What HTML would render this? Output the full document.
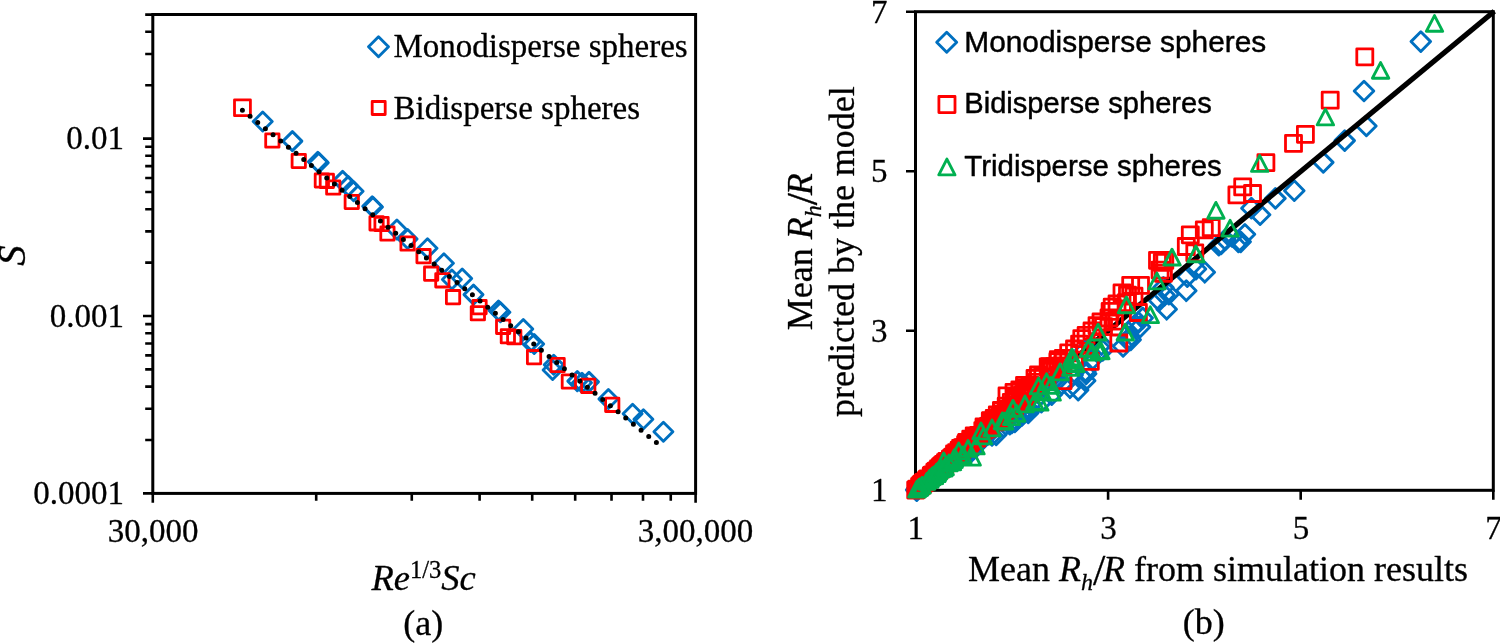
<!DOCTYPE html>
<html><head><meta charset="utf-8"><title>Figure</title>
<style>html,body{margin:0;padding:0;background:#fff;overflow:hidden}svg{display:block;will-change:transform}text{fill:#000;stroke:#000;stroke-width:.3px}.sn{stroke-width:.45px}</style></head>
<body><svg width="1500" height="643" viewBox="0 0 1500 643" stroke-linejoin="round">
<rect x="152.8" y="14.5" width="542.8" height="478.9" fill="none" stroke="#000" stroke-width="3" stroke-linejoin="miter"/>
<path d="M143.0 493.40H152.8M145.2 440.00H152.8M145.2 408.76H152.8M145.2 386.59H152.8M145.2 369.40H152.8M145.2 355.36H152.8M145.2 343.48H152.8M145.2 333.19H152.8M145.2 324.12H152.8M143.0 316.00H152.8M145.2 262.60H152.8M145.2 231.36H152.8M145.2 209.19H152.8M145.2 192.00H152.8M145.2 177.96H152.8M145.2 166.08H152.8M145.2 155.79H152.8M145.2 146.72H152.8M143.0 138.60H152.8M145.2 85.20H152.8M145.2 53.96H152.8M145.2 31.79H152.8M145.2 14.60H152.8M152.80 493.4V502.8M316.20 493.4V500.7M411.78 493.4V500.7M479.60 493.4V500.7M532.20 493.4V500.7M575.18 493.4V500.7M611.52 493.4V500.7M643.00 493.4V500.7M670.76 493.4V500.7M695.60 493.4V502.8" stroke="#000" stroke-width="2.6" fill="none"/>
<path d="M262.7 112.0L272.2 121.5L262.7 131.0L253.2 121.5Z" fill="none" stroke="#0070C0" stroke-width="2.9"/>
<path d="M292.4 131.6L301.9 141.1L292.4 150.6L282.9 141.1Z" fill="none" stroke="#0070C0" stroke-width="2.9"/>
<path d="M317.8 152.3L327.3 161.8L317.8 171.3L308.3 161.8Z" fill="none" stroke="#0070C0" stroke-width="2.9"/>
<path d="M318.8 153.3L328.3 162.8L318.8 172.3L309.3 162.8Z" fill="none" stroke="#0070C0" stroke-width="2.9"/>
<path d="M342.6 171.4L352.1 180.9L342.6 190.4L333.1 180.9Z" fill="none" stroke="#0070C0" stroke-width="2.9"/>
<path d="M348.2 176.6L357.7 186.1L348.2 195.6L338.7 186.1Z" fill="none" stroke="#0070C0" stroke-width="2.9"/>
<path d="M353.6 181.8L363.1 191.3L353.6 200.8L344.1 191.3Z" fill="none" stroke="#0070C0" stroke-width="2.9"/>
<path d="M372.2 196.7L381.7 206.2L372.2 215.7L362.7 206.2Z" fill="none" stroke="#0070C0" stroke-width="2.9"/>
<path d="M373.0 197.5L382.5 207.0L373.0 216.5L363.5 207.0Z" fill="none" stroke="#0070C0" stroke-width="2.9"/>
<path d="M396.9 220.0L406.4 229.5L396.9 239.0L387.4 229.5Z" fill="none" stroke="#0070C0" stroke-width="2.9"/>
<path d="M407.6 229.5L417.1 239.0L407.6 248.5L398.1 239.0Z" fill="none" stroke="#0070C0" stroke-width="2.9"/>
<path d="M427.5 238.8L437.0 248.3L427.5 257.8L418.0 248.3Z" fill="none" stroke="#0070C0" stroke-width="2.9"/>
<path d="M443.9 253.8L453.4 263.3L443.9 272.8L434.4 263.3Z" fill="none" stroke="#0070C0" stroke-width="2.9"/>
<path d="M462.2 269.0L471.7 278.5L462.2 288.0L452.7 278.5Z" fill="none" stroke="#0070C0" stroke-width="2.9"/>
<path d="M451.9 270.0L461.4 279.5L451.9 289.0L442.4 279.5Z" fill="none" stroke="#0070C0" stroke-width="2.9"/>
<path d="M473.5 285.1L483.0 294.6L473.5 304.1L464.0 294.6Z" fill="none" stroke="#0070C0" stroke-width="2.9"/>
<path d="M498.5 301.0L508.0 310.5L498.5 320.0L489.0 310.5Z" fill="none" stroke="#0070C0" stroke-width="2.9"/>
<path d="M500.4 302.8L509.9 312.3L500.4 321.8L490.9 312.3Z" fill="none" stroke="#0070C0" stroke-width="2.9"/>
<path d="M523.3 319.5L532.8 329.0L523.3 338.5L513.8 329.0Z" fill="none" stroke="#0070C0" stroke-width="2.9"/>
<path d="M534.2 334.5L543.7 344.0L534.2 353.5L524.7 344.0Z" fill="none" stroke="#0070C0" stroke-width="2.9"/>
<path d="M530.5 332.5L540.0 342.0L530.5 351.5L521.0 342.0Z" fill="none" stroke="#0070C0" stroke-width="2.9"/>
<path d="M553.7 355.2L563.2 364.7L553.7 374.2L544.2 364.7Z" fill="none" stroke="#0070C0" stroke-width="2.9"/>
<path d="M552.6 360.5L562.1 370.0L552.6 379.5L543.1 370.0Z" fill="none" stroke="#0070C0" stroke-width="2.9"/>
<path d="M577.3 371.6L586.8 381.1L577.3 390.6L567.8 381.1Z" fill="none" stroke="#0070C0" stroke-width="2.9"/>
<path d="M582.0 373.2L591.5 382.7L582.0 392.2L572.5 382.7Z" fill="none" stroke="#0070C0" stroke-width="2.9"/>
<path d="M589.0 372.4L598.5 381.9L589.0 391.4L579.5 381.9Z" fill="none" stroke="#0070C0" stroke-width="2.9"/>
<path d="M608.4 389.5L617.9 399.0L608.4 408.5L598.9 399.0Z" fill="none" stroke="#0070C0" stroke-width="2.9"/>
<path d="M632.6 404.3L642.1 413.8L632.6 423.3L623.1 413.8Z" fill="none" stroke="#0070C0" stroke-width="2.9"/>
<path d="M643.4 409.7L652.9 419.2L643.4 428.7L633.9 419.2Z" fill="none" stroke="#0070C0" stroke-width="2.9"/>
<path d="M663.4 422.2L672.9 431.7L663.4 441.2L653.9 431.7Z" fill="none" stroke="#0070C0" stroke-width="2.9"/>
<rect x="234.5" y="99.8" width="15.9" height="15.9" fill="none" stroke="#FF0000" stroke-width="2.8"/>
<rect x="265.7" y="133.9" width="13.3" height="13.3" fill="none" stroke="#FF0000" stroke-width="2.8"/>
<rect x="292.1" y="154.3" width="13.3" height="13.3" fill="none" stroke="#FF0000" stroke-width="2.8"/>
<rect x="315.2" y="173.8" width="13.3" height="13.3" fill="none" stroke="#FF0000" stroke-width="2.8"/>
<rect x="320.2" y="174.2" width="13.3" height="13.3" fill="none" stroke="#FF0000" stroke-width="2.8"/>
<rect x="326.6" y="180.9" width="13.3" height="13.3" fill="none" stroke="#FF0000" stroke-width="2.8"/>
<rect x="345.1" y="195.3" width="13.3" height="13.3" fill="none" stroke="#FF0000" stroke-width="2.8"/>
<rect x="369.9" y="216.7" width="13.3" height="13.3" fill="none" stroke="#FF0000" stroke-width="2.8"/>
<rect x="374.9" y="217.3" width="13.3" height="13.3" fill="none" stroke="#FF0000" stroke-width="2.8"/>
<rect x="380.8" y="226.9" width="13.3" height="13.3" fill="none" stroke="#FF0000" stroke-width="2.8"/>
<rect x="400.9" y="236.9" width="13.3" height="13.3" fill="none" stroke="#FF0000" stroke-width="2.8"/>
<rect x="416.9" y="249.5" width="13.3" height="13.3" fill="none" stroke="#FF0000" stroke-width="2.8"/>
<rect x="424.5" y="267.0" width="13.3" height="13.3" fill="none" stroke="#FF0000" stroke-width="2.8"/>
<rect x="435.7" y="273.7" width="13.3" height="13.3" fill="none" stroke="#FF0000" stroke-width="2.8"/>
<rect x="446.4" y="290.5" width="13.3" height="13.3" fill="none" stroke="#FF0000" stroke-width="2.8"/>
<rect x="472.9" y="300.5" width="13.3" height="13.3" fill="none" stroke="#FF0000" stroke-width="2.8"/>
<rect x="471.2" y="306.6" width="13.3" height="13.3" fill="none" stroke="#FF0000" stroke-width="2.8"/>
<rect x="496.5" y="320.2" width="13.3" height="13.3" fill="none" stroke="#FF0000" stroke-width="2.8"/>
<rect x="501.2" y="329.6" width="13.3" height="13.3" fill="none" stroke="#FF0000" stroke-width="2.8"/>
<rect x="507.6" y="330.5" width="13.3" height="13.3" fill="none" stroke="#FF0000" stroke-width="2.8"/>
<rect x="527.4" y="350.5" width="13.3" height="13.3" fill="none" stroke="#FF0000" stroke-width="2.8"/>
<rect x="551.0" y="358.4" width="13.3" height="13.3" fill="none" stroke="#FF0000" stroke-width="2.8"/>
<rect x="562.2" y="374.9" width="13.3" height="13.3" fill="none" stroke="#FF0000" stroke-width="2.8"/>
<rect x="581.6" y="379.2" width="13.3" height="13.3" fill="none" stroke="#FF0000" stroke-width="2.8"/>
<rect x="605.6" y="398.2" width="13.3" height="13.3" fill="none" stroke="#FF0000" stroke-width="2.8"/>
<path d="M242.4 110.2L656.4 442.6" stroke="#000" stroke-width="5" stroke-linecap="round" stroke-dasharray="0 9.832" fill="none"/>
<path d="M378.5 36.7L388.5 46.7L378.5 56.7L368.5 46.7Z" fill="none" stroke="#0070C0" stroke-width="2.9"/>
<rect x="372.2" y="101.5" width="13.0" height="13.0" fill="none" stroke="#FF0000" stroke-width="2.8"/>
<text x="393.5" y="57.1" font-family="Liberation Serif" font-size="33">Monodisperse spheres</text>
<text x="393.5" y="118.9" font-family="Liberation Serif" font-size="33">Bidisperse spheres</text>
<text x="124.0" y="149.3" font-family="Liberation Serif" font-size="33" text-anchor="end">0.01</text>
<text x="124.0" y="326.7" font-family="Liberation Serif" font-size="33" text-anchor="end">0.001</text>
<text x="124.0" y="504.1" font-family="Liberation Serif" font-size="33" text-anchor="end">0.0001</text>
<text x="153.2" y="542.3" font-family="Liberation Serif" font-size="33" text-anchor="middle">30,000</text>
<text x="695.6" y="542.3" font-family="Liberation Serif" font-size="33" text-anchor="middle">3,00,000</text>
<text x="371.5" y="589.5" font-family="Liberation Serif" font-size="36.5" font-style="italic">Re<tspan font-size="24.5" font-style="normal" dy="-11.5">1/3</tspan><tspan dy="11.5">Sc</tspan></text>
<text x="423.2" y="634.5" font-family="Liberation Serif" font-size="36" text-anchor="middle">(a)</text>
<text transform="translate(25 255.6) rotate(-90)" font-family="Liberation Serif" font-size="41" font-style="italic" text-anchor="middle">S</text>
<rect x="915.5" y="11.7" width="577.8" height="478.6" fill="none" stroke="#000" stroke-width="3" stroke-linejoin="miter"/>
<path d="M906 490.30H915.5M915.50 490.3V499.8M906 330.77H915.5M1108.10 490.3V499.8M906 171.23H915.5M1300.70 490.3V499.8M906 11.70H915.5M1493.30 490.3V499.8" stroke="#000" stroke-width="2.6" fill="none"/>
<path d="M1420.8 31.8L1430.6 41.6L1420.8 51.5L1411.0 41.6Z" fill="none" stroke="#0070C0" stroke-width="2.9"/>
<path d="M1364.0 81.2L1373.8 91.0L1364.0 100.8L1354.2 91.0Z" fill="none" stroke="#0070C0" stroke-width="2.9"/>
<path d="M1366.4 116.2L1376.2 126.0L1366.4 135.8L1356.6 126.0Z" fill="none" stroke="#0070C0" stroke-width="2.9"/>
<path d="M1344.7 130.8L1354.5 140.6L1344.7 150.4L1334.9 140.6Z" fill="none" stroke="#0070C0" stroke-width="2.9"/>
<path d="M1323.3 152.6L1333.1 162.4L1323.3 172.2L1313.5 162.4Z" fill="none" stroke="#0070C0" stroke-width="2.9"/>
<path d="M1294.3 180.8L1304.1 190.7L1294.3 200.5L1284.5 190.7Z" fill="none" stroke="#0070C0" stroke-width="2.9"/>
<path d="M1275.4 188.6L1285.2 198.4L1275.4 208.2L1265.6 198.4Z" fill="none" stroke="#0070C0" stroke-width="2.9"/>
<path d="M1251.4 198.3L1261.2 208.2L1251.4 218.0L1241.6 208.2Z" fill="none" stroke="#0070C0" stroke-width="2.9"/>
<path d="M1260.1 204.8L1269.9 214.7L1260.1 224.5L1250.2 214.7Z" fill="none" stroke="#0070C0" stroke-width="2.9"/>
<path d="M1244.9 224.5L1254.8 234.3L1244.9 244.2L1235.1 234.3Z" fill="none" stroke="#0070C0" stroke-width="2.9"/>
<path d="M1238.4 232.1L1248.2 241.9L1238.4 251.8L1228.6 241.9Z" fill="none" stroke="#0070C0" stroke-width="2.9"/>
<path d="M1225.3 229.8L1235.1 239.7L1225.3 249.5L1215.5 239.7Z" fill="none" stroke="#0070C0" stroke-width="2.9"/>
<path d="M1218.8 235.3L1228.6 245.2L1218.8 255.0L1209.0 245.2Z" fill="none" stroke="#0070C0" stroke-width="2.9"/>
<path d="M1221.1 234.1L1230.9 243.9L1221.1 253.8L1211.2 243.9Z" fill="none" stroke="#0070C0" stroke-width="2.9"/>
<path d="M1232.0 226.5L1241.8 236.3L1232.0 246.2L1222.2 236.3Z" fill="none" stroke="#0070C0" stroke-width="2.9"/>
<path d="M1240.7 232.0L1250.5 241.8L1240.7 251.7L1230.9 241.8Z" fill="none" stroke="#0070C0" stroke-width="2.9"/>
<path d="M1204.8 262.3L1214.6 272.2L1204.8 282.1L1195.0 272.2Z" fill="none" stroke="#0070C0" stroke-width="2.9"/>
<path d="M1196.0 259.1L1205.8 269.0L1196.0 278.9L1186.2 269.0Z" fill="none" stroke="#0070C0" stroke-width="2.9"/>
<path d="M1187.3 266.8L1197.1 276.6L1187.3 286.5L1177.5 276.6Z" fill="none" stroke="#0070C0" stroke-width="2.9"/>
<path d="M1186.3 280.8L1196.1 290.7L1186.3 300.6L1176.5 290.7Z" fill="none" stroke="#0070C0" stroke-width="2.9"/>
<path d="M1163.4 277.6L1173.2 287.5L1163.4 297.4L1153.6 287.5Z" fill="none" stroke="#0070C0" stroke-width="2.9"/>
<path d="M1164.5 285.2L1174.3 295.1L1164.5 305.0L1154.7 295.1Z" fill="none" stroke="#0070C0" stroke-width="2.9"/>
<path d="M1168.8 284.1L1178.6 294.0L1168.8 303.9L1159.0 294.0Z" fill="none" stroke="#0070C0" stroke-width="2.9"/>
<path d="M1166.7 299.3L1176.5 309.2L1166.7 319.1L1156.9 309.2Z" fill="none" stroke="#0070C0" stroke-width="2.9"/>
<path d="M1159.0 290.6L1168.8 300.5L1159.0 310.4L1149.2 300.5Z" fill="none" stroke="#0070C0" stroke-width="2.9"/>
<path d="M1138.4 312.4L1148.2 322.3L1138.4 332.2L1128.6 322.3Z" fill="none" stroke="#0070C0" stroke-width="2.9"/>
<path d="M1142.7 308.1L1152.5 318.0L1142.7 327.9L1132.9 318.0Z" fill="none" stroke="#0070C0" stroke-width="2.9"/>
<path d="M1134.0 316.8L1143.8 326.7L1134.0 336.6L1124.2 326.7Z" fill="none" stroke="#0070C0" stroke-width="2.9"/>
<path d="M1127.5 329.8L1137.3 339.7L1127.5 349.6L1117.7 339.7Z" fill="none" stroke="#0070C0" stroke-width="2.9"/>
<path d="M1123.1 336.4L1132.9 346.3L1123.1 356.2L1113.2 346.3Z" fill="none" stroke="#0070C0" stroke-width="2.9"/>
<path d="M916.2 479.9L926.1 489.8L916.2 499.7L906.4 489.8Z" fill="none" stroke="#0070C0" stroke-width="2.9"/>
<path d="M916.8 480.8L926.6 490.6L916.8 500.5L906.9 490.6Z" fill="none" stroke="#0070C0" stroke-width="2.9"/>
<path d="M931.1 468.9L940.9 478.7L931.1 488.6L921.2 478.7Z" fill="none" stroke="#0070C0" stroke-width="2.9"/>
<path d="M946.8 457.4L956.7 467.2L946.8 477.1L937.0 467.2Z" fill="none" stroke="#0070C0" stroke-width="2.9"/>
<path d="M941.3 460.7L951.2 470.6L941.3 480.4L931.5 470.6Z" fill="none" stroke="#0070C0" stroke-width="2.9"/>
<path d="M918.3 478.3L928.1 488.1L918.3 498.0L908.4 488.1Z" fill="none" stroke="#0070C0" stroke-width="2.9"/>
<path d="M917.3 479.1L927.2 488.9L917.3 498.8L907.5 488.9Z" fill="none" stroke="#0070C0" stroke-width="2.9"/>
<path d="M918.9 478.0L928.7 487.8L918.9 497.7L909.0 487.8Z" fill="none" stroke="#0070C0" stroke-width="2.9"/>
<path d="M935.9 463.9L945.8 473.7L935.9 483.6L926.1 473.7Z" fill="none" stroke="#0070C0" stroke-width="2.9"/>
<path d="M921.5 476.0L931.3 485.8L921.5 495.7L911.6 485.8Z" fill="none" stroke="#0070C0" stroke-width="2.9"/>
<path d="M945.7 455.6L955.6 465.4L945.7 475.3L935.9 465.4Z" fill="none" stroke="#0070C0" stroke-width="2.9"/>
<path d="M943.3 459.1L953.1 468.9L943.3 478.8L933.4 468.9Z" fill="none" stroke="#0070C0" stroke-width="2.9"/>
<path d="M962.5 446.0L972.4 455.8L962.5 465.7L952.7 455.8Z" fill="none" stroke="#0070C0" stroke-width="2.9"/>
<path d="M956.8 449.1L966.7 459.0L956.8 468.8L947.0 459.0Z" fill="none" stroke="#0070C0" stroke-width="2.9"/>
<path d="M922.4 475.3L932.3 485.2L922.4 495.0L912.6 485.2Z" fill="none" stroke="#0070C0" stroke-width="2.9"/>
<path d="M930.4 468.4L940.2 478.3L930.4 488.1L920.5 478.3Z" fill="none" stroke="#0070C0" stroke-width="2.9"/>
<path d="M924.2 473.6L934.1 483.5L924.2 493.3L914.4 483.5Z" fill="none" stroke="#0070C0" stroke-width="2.9"/>
<path d="M946.3 456.9L956.1 466.7L946.3 476.6L936.4 466.7Z" fill="none" stroke="#0070C0" stroke-width="2.9"/>
<path d="M941.9 461.1L951.7 470.9L941.9 480.8L932.0 470.9Z" fill="none" stroke="#0070C0" stroke-width="2.9"/>
<path d="M918.4 478.3L928.2 488.1L918.4 498.0L908.5 488.1Z" fill="none" stroke="#0070C0" stroke-width="2.9"/>
<path d="M948.3 455.2L958.1 465.0L948.3 474.9L938.4 465.0Z" fill="none" stroke="#0070C0" stroke-width="2.9"/>
<path d="M930.6 468.5L940.5 478.4L930.6 488.2L920.8 478.4Z" fill="none" stroke="#0070C0" stroke-width="2.9"/>
<path d="M937.3 463.9L947.2 473.7L937.3 483.6L927.5 473.7Z" fill="none" stroke="#0070C0" stroke-width="2.9"/>
<path d="M953.7 449.9L963.6 459.8L953.7 469.6L943.9 459.8Z" fill="none" stroke="#0070C0" stroke-width="2.9"/>
<path d="M927.3 471.2L937.1 481.1L927.3 490.9L917.4 481.1Z" fill="none" stroke="#0070C0" stroke-width="2.9"/>
<path d="M940.8 459.8L950.6 469.7L940.8 479.5L930.9 469.7Z" fill="none" stroke="#0070C0" stroke-width="2.9"/>
<path d="M950.6 453.8L960.5 463.7L950.6 473.5L940.8 463.7Z" fill="none" stroke="#0070C0" stroke-width="2.9"/>
<path d="M962.7 445.5L972.5 455.3L962.7 465.2L952.8 455.3Z" fill="none" stroke="#0070C0" stroke-width="2.9"/>
<path d="M935.6 464.3L945.5 474.1L935.6 484.0L925.8 474.1Z" fill="none" stroke="#0070C0" stroke-width="2.9"/>
<path d="M922.8 474.8L932.7 484.6L922.8 494.5L913.0 484.6Z" fill="none" stroke="#0070C0" stroke-width="2.9"/>
<path d="M917.4 478.9L927.2 488.8L917.4 498.6L907.5 488.8Z" fill="none" stroke="#0070C0" stroke-width="2.9"/>
<path d="M952.3 451.5L962.2 461.4L952.3 471.2L942.5 461.4Z" fill="none" stroke="#0070C0" stroke-width="2.9"/>
<path d="M957.7 448.4L967.5 458.3L957.7 468.1L947.8 458.3Z" fill="none" stroke="#0070C0" stroke-width="2.9"/>
<path d="M949.0 454.1L958.8 463.9L949.0 473.8L939.1 463.9Z" fill="none" stroke="#0070C0" stroke-width="2.9"/>
<path d="M943.4 458.8L953.3 468.7L943.4 478.5L933.6 468.7Z" fill="none" stroke="#0070C0" stroke-width="2.9"/>
<path d="M955.9 447.2L965.8 457.0L955.9 466.9L946.1 457.0Z" fill="none" stroke="#0070C0" stroke-width="2.9"/>
<path d="M938.3 462.3L948.2 472.2L938.3 482.0L928.5 472.2Z" fill="none" stroke="#0070C0" stroke-width="2.9"/>
<path d="M918.4 478.1L928.3 488.0L918.4 497.8L908.6 488.0Z" fill="none" stroke="#0070C0" stroke-width="2.9"/>
<path d="M1098.0 342.8L1107.8 352.7L1098.0 362.6L1088.2 352.7Z" fill="none" stroke="#0070C0" stroke-width="2.9"/>
<path d="M1102.7 340.4L1112.5 350.3L1102.7 360.2L1092.9 350.3Z" fill="none" stroke="#0070C0" stroke-width="2.9"/>
<path d="M1092.2 349.8L1102.0 359.7L1092.2 369.6L1082.4 359.7Z" fill="none" stroke="#0070C0" stroke-width="2.9"/>
<path d="M1085.2 370.8L1095.0 380.7L1085.2 390.6L1075.4 380.7Z" fill="none" stroke="#0070C0" stroke-width="2.9"/>
<path d="M1070.0 377.8L1079.8 387.7L1070.0 397.6L1060.2 387.7Z" fill="none" stroke="#0070C0" stroke-width="2.9"/>
<path d="M1061.8 374.3L1071.6 384.2L1061.8 394.1L1052.0 384.2Z" fill="none" stroke="#0070C0" stroke-width="2.9"/>
<path d="M1078.2 380.1L1088.0 390.0L1078.2 399.9L1068.4 390.0Z" fill="none" stroke="#0070C0" stroke-width="2.9"/>
<path d="M1135.4 314.8L1145.2 324.7L1135.4 334.6L1125.6 324.7Z" fill="none" stroke="#0070C0" stroke-width="2.9"/>
<path d="M1140.0 317.1L1149.8 327.0L1140.0 336.9L1130.2 327.0Z" fill="none" stroke="#0070C0" stroke-width="2.9"/>
<path d="M1130.7 329.9L1140.5 339.8L1130.7 349.7L1120.9 339.8Z" fill="none" stroke="#0070C0" stroke-width="2.9"/>
<path d="M994.8 414.8L1004.7 424.7L994.8 434.5L985.0 424.7Z" fill="none" stroke="#0070C0" stroke-width="2.9"/>
<path d="M1003.2 417.1L1013.1 427.0L1003.2 436.8L993.4 427.0Z" fill="none" stroke="#0070C0" stroke-width="2.9"/>
<path d="M982.2 428.5L992.1 438.3L982.2 448.2L972.4 438.3Z" fill="none" stroke="#0070C0" stroke-width="2.9"/>
<path d="M964.7 443.6L974.6 453.5L964.7 463.3L954.9 453.5Z" fill="none" stroke="#0070C0" stroke-width="2.9"/>
<path d="M971.7 441.3L981.6 451.1L971.7 461.0L961.9 451.1Z" fill="none" stroke="#0070C0" stroke-width="2.9"/>
<path d="M966.5 440.0L976.3 449.8L966.5 459.7L956.6 449.8Z" fill="none" stroke="#0070C0" stroke-width="2.9"/>
<path d="M969.9 441.5L979.7 451.4L969.9 461.2L960.0 451.4Z" fill="none" stroke="#0070C0" stroke-width="2.9"/>
<path d="M982.5 426.3L992.3 436.1L982.5 446.0L972.6 436.1Z" fill="none" stroke="#0070C0" stroke-width="2.9"/>
<path d="M967.5 441.6L977.4 451.5L967.5 461.3L957.7 451.5Z" fill="none" stroke="#0070C0" stroke-width="2.9"/>
<path d="M990.1 420.0L1000.0 429.8L990.1 439.7L980.3 429.8Z" fill="none" stroke="#0070C0" stroke-width="2.9"/>
<path d="M1003.1 409.7L1012.9 419.5L1003.1 429.4L993.2 419.5Z" fill="none" stroke="#0070C0" stroke-width="2.9"/>
<path d="M977.1 434.8L986.9 444.7L977.1 454.5L967.2 444.7Z" fill="none" stroke="#0070C0" stroke-width="2.9"/>
<path d="M980.9 427.4L990.8 437.2L980.9 447.1L971.1 437.2Z" fill="none" stroke="#0070C0" stroke-width="2.9"/>
<path d="M1009.8 414.3L1019.6 424.2L1009.8 434.0L999.9 424.2Z" fill="none" stroke="#0070C0" stroke-width="2.9"/>
<path d="M972.1 440.0L982.0 449.9L972.1 459.7L962.3 449.9Z" fill="none" stroke="#0070C0" stroke-width="2.9"/>
<path d="M974.9 435.8L984.7 445.7L974.9 455.5L965.0 445.7Z" fill="none" stroke="#0070C0" stroke-width="2.9"/>
<path d="M992.0 425.5L1001.9 435.3L992.0 445.2L982.2 435.3Z" fill="none" stroke="#0070C0" stroke-width="2.9"/>
<path d="M963.8 444.6L973.7 454.4L963.8 464.3L954.0 454.4Z" fill="none" stroke="#0070C0" stroke-width="2.9"/>
<path d="M981.4 430.1L991.3 440.0L981.4 449.8L971.6 440.0Z" fill="none" stroke="#0070C0" stroke-width="2.9"/>
<path d="M1009.5 406.9L1019.4 416.7L1009.5 426.6L999.7 416.7Z" fill="none" stroke="#0070C0" stroke-width="2.9"/>
<path d="M988.5 424.2L998.3 434.0L988.5 443.9L978.6 434.0Z" fill="none" stroke="#0070C0" stroke-width="2.9"/>
<path d="M996.2 425.0L1006.1 434.8L996.2 444.7L986.4 434.8Z" fill="none" stroke="#0070C0" stroke-width="2.9"/>
<path d="M1055.1 369.4L1065.0 379.2L1055.1 389.1L1045.3 379.2Z" fill="none" stroke="#0070C0" stroke-width="2.9"/>
<path d="M1053.9 370.0L1063.8 379.8L1053.9 389.7L1044.1 379.8Z" fill="none" stroke="#0070C0" stroke-width="2.9"/>
<path d="M1030.7 395.4L1040.5 405.2L1030.7 415.1L1020.8 405.2Z" fill="none" stroke="#0070C0" stroke-width="2.9"/>
<path d="M1016.8 402.1L1026.6 411.9L1016.8 421.8L1006.9 411.9Z" fill="none" stroke="#0070C0" stroke-width="2.9"/>
<path d="M1014.8 412.0L1024.6 421.9L1014.8 431.7L1004.9 421.9Z" fill="none" stroke="#0070C0" stroke-width="2.9"/>
<path d="M1021.9 405.6L1031.7 415.5L1021.9 425.3L1012.0 415.5Z" fill="none" stroke="#0070C0" stroke-width="2.9"/>
<path d="M1028.2 403.0L1038.0 412.9L1028.2 422.7L1018.3 412.9Z" fill="none" stroke="#0070C0" stroke-width="2.9"/>
<path d="M1011.8 412.9L1021.7 422.7L1011.8 432.6L1002.0 422.7Z" fill="none" stroke="#0070C0" stroke-width="2.9"/>
<path d="M1016.7 406.2L1026.5 416.1L1016.7 425.9L1006.8 416.1Z" fill="none" stroke="#0070C0" stroke-width="2.9"/>
<path d="M1013.0 401.5L1022.9 411.3L1013.0 421.2L1003.2 411.3Z" fill="none" stroke="#0070C0" stroke-width="2.9"/>
<path d="M1041.4 392.2L1051.2 402.0L1041.4 411.9L1031.5 402.0Z" fill="none" stroke="#0070C0" stroke-width="2.9"/>
<path d="M1023.9 401.2L1033.8 411.0L1023.9 420.9L1014.1 411.0Z" fill="none" stroke="#0070C0" stroke-width="2.9"/>
<path d="M1029.3 401.0L1039.2 410.9L1029.3 420.7L1019.5 410.9Z" fill="none" stroke="#0070C0" stroke-width="2.9"/>
<path d="M1052.7 367.0L1062.5 376.8L1052.7 386.7L1042.8 376.8Z" fill="none" stroke="#0070C0" stroke-width="2.9"/>
<path d="M1034.2 391.2L1044.1 401.1L1034.2 410.9L1024.4 401.1Z" fill="none" stroke="#0070C0" stroke-width="2.9"/>
<path d="M1015.9 410.7L1025.8 420.6L1015.9 430.4L1006.1 420.6Z" fill="none" stroke="#0070C0" stroke-width="2.9"/>
<path d="M1028.3 399.4L1038.1 409.2L1028.3 419.1L1018.4 409.2Z" fill="none" stroke="#0070C0" stroke-width="2.9"/>
<path d="M1051.7 384.7L1061.6 394.5L1051.7 404.4L1041.9 394.5Z" fill="none" stroke="#0070C0" stroke-width="2.9"/>
<path d="M1061.1 360.9L1070.9 370.8L1061.1 380.6L1051.2 370.8Z" fill="none" stroke="#0070C0" stroke-width="2.9"/>
<path d="M1085.4 361.3L1095.2 371.2L1085.4 381.0L1075.5 371.2Z" fill="none" stroke="#0070C0" stroke-width="2.9"/>
<path d="M1086.1 363.9L1096.0 373.7L1086.1 383.6L1076.3 373.7Z" fill="none" stroke="#0070C0" stroke-width="2.9"/>
<path d="M1085.4 340.3L1095.2 350.1L1085.4 360.0L1075.5 350.1Z" fill="none" stroke="#0070C0" stroke-width="2.9"/>
<path d="M1101.5 334.8L1111.4 344.6L1101.5 354.5L1091.7 344.6Z" fill="none" stroke="#0070C0" stroke-width="2.9"/>
<path d="M1072.5 365.2L1082.4 375.1L1072.5 384.9L1062.7 375.1Z" fill="none" stroke="#0070C0" stroke-width="2.9"/>
<path d="M915.5 490.3L1494.3 11.299999999999999" stroke="#000" stroke-width="5.3" fill="none"/>
<rect x="1356.8" y="48.8" width="16.0" height="16.0" fill="none" stroke="#FF0000" stroke-width="2.8"/>
<rect x="1322.2" y="92.2" width="16.0" height="16.0" fill="none" stroke="#FF0000" stroke-width="2.8"/>
<rect x="1297.4" y="126.3" width="16.0" height="16.0" fill="none" stroke="#FF0000" stroke-width="2.8"/>
<rect x="1285.5" y="135.4" width="16.0" height="16.0" fill="none" stroke="#FF0000" stroke-width="2.8"/>
<rect x="1257.9" y="154.7" width="16.0" height="16.0" fill="none" stroke="#FF0000" stroke-width="2.8"/>
<rect x="1234.7" y="178.9" width="16.0" height="16.0" fill="none" stroke="#FF0000" stroke-width="2.8"/>
<rect x="1244.5" y="185.5" width="16.0" height="16.0" fill="none" stroke="#FF0000" stroke-width="2.8"/>
<rect x="1228.9" y="186.9" width="16.0" height="16.0" fill="none" stroke="#FF0000" stroke-width="2.8"/>
<rect x="1203.2" y="219.7" width="16.0" height="16.0" fill="none" stroke="#FF0000" stroke-width="2.8"/>
<rect x="1196.3" y="221.9" width="16.0" height="16.0" fill="none" stroke="#FF0000" stroke-width="2.8"/>
<rect x="1182.3" y="226.8" width="16.0" height="16.0" fill="none" stroke="#FF0000" stroke-width="2.8"/>
<rect x="1178.3" y="238.5" width="16.0" height="16.0" fill="none" stroke="#FF0000" stroke-width="2.8"/>
<rect x="1186.8" y="244.8" width="16.0" height="16.0" fill="none" stroke="#FF0000" stroke-width="2.8"/>
<rect x="1156.8" y="252.4" width="16.0" height="16.0" fill="none" stroke="#FF0000" stroke-width="2.8"/>
<rect x="1149.5" y="252.3" width="16.0" height="16.0" fill="none" stroke="#FF0000" stroke-width="2.8"/>
<rect x="1154.3" y="254.4" width="16.0" height="16.0" fill="none" stroke="#FF0000" stroke-width="2.8"/>
<rect x="1152.1" y="262.1" width="16.0" height="16.0" fill="none" stroke="#FF0000" stroke-width="2.8"/>
<rect x="1155.4" y="265.3" width="16.0" height="16.0" fill="none" stroke="#FF0000" stroke-width="2.8"/>
<rect x="1122.7" y="277.3" width="16.0" height="16.0" fill="none" stroke="#FF0000" stroke-width="2.8"/>
<rect x="1132.5" y="277.3" width="16.0" height="16.0" fill="none" stroke="#FF0000" stroke-width="2.8"/>
<rect x="1114.0" y="284.9" width="16.0" height="16.0" fill="none" stroke="#FF0000" stroke-width="2.8"/>
<rect x="1119.5" y="287.1" width="16.0" height="16.0" fill="none" stroke="#FF0000" stroke-width="2.8"/>
<rect x="1126.0" y="288.2" width="16.0" height="16.0" fill="none" stroke="#FF0000" stroke-width="2.8"/>
<rect x="1118.4" y="294.7" width="16.0" height="16.0" fill="none" stroke="#FF0000" stroke-width="2.8"/>
<rect x="1104.2" y="299.1" width="16.0" height="16.0" fill="none" stroke="#FF0000" stroke-width="2.8"/>
<rect x="1102.1" y="303.4" width="16.0" height="16.0" fill="none" stroke="#FF0000" stroke-width="2.8"/>
<rect x="1130.4" y="304.5" width="16.0" height="16.0" fill="none" stroke="#FF0000" stroke-width="2.8"/>
<rect x="1101.0" y="310.0" width="16.0" height="16.0" fill="none" stroke="#FF0000" stroke-width="2.8"/>
<rect x="1106.4" y="313.2" width="16.0" height="16.0" fill="none" stroke="#FF0000" stroke-width="2.8"/>
<rect x="1089.0" y="317.6" width="16.0" height="16.0" fill="none" stroke="#FF0000" stroke-width="2.8"/>
<rect x="1095.5" y="318.7" width="16.0" height="16.0" fill="none" stroke="#FF0000" stroke-width="2.8"/>
<rect x="1078.1" y="327.4" width="16.0" height="16.0" fill="none" stroke="#FF0000" stroke-width="2.8"/>
<rect x="1073.8" y="330.6" width="16.0" height="16.0" fill="none" stroke="#FF0000" stroke-width="2.8"/>
<rect x="1071.6" y="336.1" width="16.0" height="16.0" fill="none" stroke="#FF0000" stroke-width="2.8"/>
<rect x="1110.8" y="335.0" width="16.0" height="16.0" fill="none" stroke="#FF0000" stroke-width="2.8"/>
<rect x="1060.7" y="344.8" width="16.0" height="16.0" fill="none" stroke="#FF0000" stroke-width="2.8"/>
<rect x="1050.3" y="351.7" width="16.0" height="16.0" fill="none" stroke="#FF0000" stroke-width="2.8"/>
<rect x="1055.0" y="354.0" width="16.0" height="16.0" fill="none" stroke="#FF0000" stroke-width="2.8"/>
<rect x="1082.3" y="353.3" width="16.0" height="16.0" fill="none" stroke="#FF0000" stroke-width="2.8"/>
<rect x="1046.8" y="358.7" width="16.0" height="16.0" fill="none" stroke="#FF0000" stroke-width="2.8"/>
<rect x="1041.0" y="363.4" width="16.0" height="16.0" fill="none" stroke="#FF0000" stroke-width="2.8"/>
<rect x="1030.5" y="366.9" width="16.0" height="16.0" fill="none" stroke="#FF0000" stroke-width="2.8"/>
<rect x="1027.0" y="370.4" width="16.0" height="16.0" fill="none" stroke="#FF0000" stroke-width="2.8"/>
<rect x="1055.0" y="372.7" width="16.0" height="16.0" fill="none" stroke="#FF0000" stroke-width="2.8"/>
<rect x="1016.5" y="377.4" width="16.0" height="16.0" fill="none" stroke="#FF0000" stroke-width="2.8"/>
<rect x="1011.8" y="382.0" width="16.0" height="16.0" fill="none" stroke="#FF0000" stroke-width="2.8"/>
<rect x="1006.0" y="384.4" width="16.0" height="16.0" fill="none" stroke="#FF0000" stroke-width="2.8"/>
<rect x="999.0" y="387.9" width="16.0" height="16.0" fill="none" stroke="#FF0000" stroke-width="2.8"/>
<rect x="1066.5" y="341.0" width="16.0" height="16.0" fill="none" stroke="#FF0000" stroke-width="2.8"/>
<rect x="1084.0" y="323.0" width="16.0" height="16.0" fill="none" stroke="#FF0000" stroke-width="2.8"/>
<rect x="1109.0" y="296.0" width="16.0" height="16.0" fill="none" stroke="#FF0000" stroke-width="2.8"/>
<rect x="1093.0" y="314.0" width="16.0" height="16.0" fill="none" stroke="#FF0000" stroke-width="2.8"/>
<rect x="915.5" y="475.0" width="16.0" height="16.0" fill="none" stroke="#FF0000" stroke-width="2.8"/>
<rect x="933.1" y="458.9" width="16.0" height="16.0" fill="none" stroke="#FF0000" stroke-width="2.8"/>
<rect x="923.4" y="468.6" width="16.0" height="16.0" fill="none" stroke="#FF0000" stroke-width="2.8"/>
<rect x="946.6" y="445.9" width="16.0" height="16.0" fill="none" stroke="#FF0000" stroke-width="2.8"/>
<rect x="948.6" y="444.7" width="16.0" height="16.0" fill="none" stroke="#FF0000" stroke-width="2.8"/>
<rect x="946.9" y="446.5" width="16.0" height="16.0" fill="none" stroke="#FF0000" stroke-width="2.8"/>
<rect x="918.4" y="472.6" width="16.0" height="16.0" fill="none" stroke="#FF0000" stroke-width="2.8"/>
<rect x="924.6" y="467.8" width="16.0" height="16.0" fill="none" stroke="#FF0000" stroke-width="2.8"/>
<rect x="908.8" y="481.1" width="16.0" height="16.0" fill="none" stroke="#FF0000" stroke-width="2.8"/>
<rect x="920.0" y="471.0" width="16.0" height="16.0" fill="none" stroke="#FF0000" stroke-width="2.8"/>
<rect x="953.6" y="441.6" width="16.0" height="16.0" fill="none" stroke="#FF0000" stroke-width="2.8"/>
<rect x="952.6" y="440.3" width="16.0" height="16.0" fill="none" stroke="#FF0000" stroke-width="2.8"/>
<rect x="953.5" y="442.0" width="16.0" height="16.0" fill="none" stroke="#FF0000" stroke-width="2.8"/>
<rect x="918.1" y="473.1" width="16.0" height="16.0" fill="none" stroke="#FF0000" stroke-width="2.8"/>
<rect x="917.0" y="474.1" width="16.0" height="16.0" fill="none" stroke="#FF0000" stroke-width="2.8"/>
<rect x="937.5" y="454.6" width="16.0" height="16.0" fill="none" stroke="#FF0000" stroke-width="2.8"/>
<rect x="948.0" y="446.4" width="16.0" height="16.0" fill="none" stroke="#FF0000" stroke-width="2.8"/>
<rect x="938.9" y="453.5" width="16.0" height="16.0" fill="none" stroke="#FF0000" stroke-width="2.8"/>
<rect x="911.6" y="478.6" width="16.0" height="16.0" fill="none" stroke="#FF0000" stroke-width="2.8"/>
<rect x="951.3" y="442.3" width="16.0" height="16.0" fill="none" stroke="#FF0000" stroke-width="2.8"/>
<rect x="943.6" y="450.3" width="16.0" height="16.0" fill="none" stroke="#FF0000" stroke-width="2.8"/>
<rect x="916.1" y="474.4" width="16.0" height="16.0" fill="none" stroke="#FF0000" stroke-width="2.8"/>
<rect x="923.5" y="467.7" width="16.0" height="16.0" fill="none" stroke="#FF0000" stroke-width="2.8"/>
<rect x="954.3" y="441.2" width="16.0" height="16.0" fill="none" stroke="#FF0000" stroke-width="2.8"/>
<rect x="926.8" y="464.4" width="16.0" height="16.0" fill="none" stroke="#FF0000" stroke-width="2.8"/>
<rect x="942.4" y="452.3" width="16.0" height="16.0" fill="none" stroke="#FF0000" stroke-width="2.8"/>
<rect x="913.6" y="477.1" width="16.0" height="16.0" fill="none" stroke="#FF0000" stroke-width="2.8"/>
<rect x="951.1" y="442.4" width="16.0" height="16.0" fill="none" stroke="#FF0000" stroke-width="2.8"/>
<rect x="914.5" y="475.8" width="16.0" height="16.0" fill="none" stroke="#FF0000" stroke-width="2.8"/>
<rect x="954.7" y="439.7" width="16.0" height="16.0" fill="none" stroke="#FF0000" stroke-width="2.8"/>
<rect x="924.4" y="467.2" width="16.0" height="16.0" fill="none" stroke="#FF0000" stroke-width="2.8"/>
<rect x="913.8" y="477.0" width="16.0" height="16.0" fill="none" stroke="#FF0000" stroke-width="2.8"/>
<rect x="954.2" y="440.2" width="16.0" height="16.0" fill="none" stroke="#FF0000" stroke-width="2.8"/>
<rect x="932.9" y="458.8" width="16.0" height="16.0" fill="none" stroke="#FF0000" stroke-width="2.8"/>
<rect x="928.4" y="463.1" width="16.0" height="16.0" fill="none" stroke="#FF0000" stroke-width="2.8"/>
<rect x="947.3" y="448.0" width="16.0" height="16.0" fill="none" stroke="#FF0000" stroke-width="2.8"/>
<rect x="919.6" y="471.7" width="16.0" height="16.0" fill="none" stroke="#FF0000" stroke-width="2.8"/>
<rect x="919.1" y="471.9" width="16.0" height="16.0" fill="none" stroke="#FF0000" stroke-width="2.8"/>
<rect x="920.0" y="471.3" width="16.0" height="16.0" fill="none" stroke="#FF0000" stroke-width="2.8"/>
<rect x="913.8" y="476.5" width="16.0" height="16.0" fill="none" stroke="#FF0000" stroke-width="2.8"/>
<rect x="924.5" y="467.2" width="16.0" height="16.0" fill="none" stroke="#FF0000" stroke-width="2.8"/>
<rect x="935.6" y="456.4" width="16.0" height="16.0" fill="none" stroke="#FF0000" stroke-width="2.8"/>
<rect x="927.8" y="463.6" width="16.0" height="16.0" fill="none" stroke="#FF0000" stroke-width="2.8"/>
<rect x="931.7" y="460.8" width="16.0" height="16.0" fill="none" stroke="#FF0000" stroke-width="2.8"/>
<rect x="932.7" y="461.0" width="16.0" height="16.0" fill="none" stroke="#FF0000" stroke-width="2.8"/>
<rect x="928.7" y="464.1" width="16.0" height="16.0" fill="none" stroke="#FF0000" stroke-width="2.8"/>
<rect x="907.7" y="482.1" width="16.0" height="16.0" fill="none" stroke="#FF0000" stroke-width="2.8"/>
<rect x="915.8" y="474.9" width="16.0" height="16.0" fill="none" stroke="#FF0000" stroke-width="2.8"/>
<rect x="942.4" y="451.1" width="16.0" height="16.0" fill="none" stroke="#FF0000" stroke-width="2.8"/>
<rect x="923.2" y="468.3" width="16.0" height="16.0" fill="none" stroke="#FF0000" stroke-width="2.8"/>
<rect x="934.2" y="457.9" width="16.0" height="16.0" fill="none" stroke="#FF0000" stroke-width="2.8"/>
<rect x="912.6" y="477.7" width="16.0" height="16.0" fill="none" stroke="#FF0000" stroke-width="2.8"/>
<rect x="919.5" y="471.9" width="16.0" height="16.0" fill="none" stroke="#FF0000" stroke-width="2.8"/>
<rect x="944.7" y="449.2" width="16.0" height="16.0" fill="none" stroke="#FF0000" stroke-width="2.8"/>
<rect x="934.5" y="457.7" width="16.0" height="16.0" fill="none" stroke="#FF0000" stroke-width="2.8"/>
<rect x="951.4" y="443.5" width="16.0" height="16.0" fill="none" stroke="#FF0000" stroke-width="2.8"/>
<rect x="937.0" y="456.1" width="16.0" height="16.0" fill="none" stroke="#FF0000" stroke-width="2.8"/>
<rect x="932.2" y="460.0" width="16.0" height="16.0" fill="none" stroke="#FF0000" stroke-width="2.8"/>
<rect x="929.3" y="462.9" width="16.0" height="16.0" fill="none" stroke="#FF0000" stroke-width="2.8"/>
<rect x="930.5" y="461.0" width="16.0" height="16.0" fill="none" stroke="#FF0000" stroke-width="2.8"/>
<rect x="989.3" y="406.9" width="16.0" height="16.0" fill="none" stroke="#FF0000" stroke-width="2.8"/>
<rect x="1001.0" y="401.2" width="16.0" height="16.0" fill="none" stroke="#FF0000" stroke-width="2.8"/>
<rect x="982.6" y="412.7" width="16.0" height="16.0" fill="none" stroke="#FF0000" stroke-width="2.8"/>
<rect x="996.1" y="406.4" width="16.0" height="16.0" fill="none" stroke="#FF0000" stroke-width="2.8"/>
<rect x="961.5" y="434.6" width="16.0" height="16.0" fill="none" stroke="#FF0000" stroke-width="2.8"/>
<rect x="959.1" y="437.6" width="16.0" height="16.0" fill="none" stroke="#FF0000" stroke-width="2.8"/>
<rect x="959.2" y="435.6" width="16.0" height="16.0" fill="none" stroke="#FF0000" stroke-width="2.8"/>
<rect x="993.4" y="403.0" width="16.0" height="16.0" fill="none" stroke="#FF0000" stroke-width="2.8"/>
<rect x="963.1" y="431.9" width="16.0" height="16.0" fill="none" stroke="#FF0000" stroke-width="2.8"/>
<rect x="987.4" y="413.8" width="16.0" height="16.0" fill="none" stroke="#FF0000" stroke-width="2.8"/>
<rect x="998.2" y="398.1" width="16.0" height="16.0" fill="none" stroke="#FF0000" stroke-width="2.8"/>
<rect x="966.2" y="427.8" width="16.0" height="16.0" fill="none" stroke="#FF0000" stroke-width="2.8"/>
<rect x="974.8" y="422.6" width="16.0" height="16.0" fill="none" stroke="#FF0000" stroke-width="2.8"/>
<rect x="1003.3" y="394.4" width="16.0" height="16.0" fill="none" stroke="#FF0000" stroke-width="2.8"/>
<rect x="963.4" y="433.0" width="16.0" height="16.0" fill="none" stroke="#FF0000" stroke-width="2.8"/>
<rect x="980.5" y="418.5" width="16.0" height="16.0" fill="none" stroke="#FF0000" stroke-width="2.8"/>
<rect x="965.1" y="432.1" width="16.0" height="16.0" fill="none" stroke="#FF0000" stroke-width="2.8"/>
<rect x="990.4" y="412.1" width="16.0" height="16.0" fill="none" stroke="#FF0000" stroke-width="2.8"/>
<rect x="982.3" y="416.2" width="16.0" height="16.0" fill="none" stroke="#FF0000" stroke-width="2.8"/>
<rect x="956.5" y="439.5" width="16.0" height="16.0" fill="none" stroke="#FF0000" stroke-width="2.8"/>
<rect x="985.7" y="412.8" width="16.0" height="16.0" fill="none" stroke="#FF0000" stroke-width="2.8"/>
<rect x="958.7" y="434.6" width="16.0" height="16.0" fill="none" stroke="#FF0000" stroke-width="2.8"/>
<rect x="993.6" y="402.3" width="16.0" height="16.0" fill="none" stroke="#FF0000" stroke-width="2.8"/>
<rect x="960.7" y="436.1" width="16.0" height="16.0" fill="none" stroke="#FF0000" stroke-width="2.8"/>
<rect x="957.6" y="436.6" width="16.0" height="16.0" fill="none" stroke="#FF0000" stroke-width="2.8"/>
<rect x="968.7" y="429.9" width="16.0" height="16.0" fill="none" stroke="#FF0000" stroke-width="2.8"/>
<rect x="976.0" y="419.0" width="16.0" height="16.0" fill="none" stroke="#FF0000" stroke-width="2.8"/>
<rect x="995.1" y="406.3" width="16.0" height="16.0" fill="none" stroke="#FF0000" stroke-width="2.8"/>
<rect x="962.8" y="431.1" width="16.0" height="16.0" fill="none" stroke="#FF0000" stroke-width="2.8"/>
<rect x="983.1" y="413.8" width="16.0" height="16.0" fill="none" stroke="#FF0000" stroke-width="2.8"/>
<rect x="960.0" y="437.7" width="16.0" height="16.0" fill="none" stroke="#FF0000" stroke-width="2.8"/>
<rect x="988.8" y="410.6" width="16.0" height="16.0" fill="none" stroke="#FF0000" stroke-width="2.8"/>
<rect x="959.1" y="434.5" width="16.0" height="16.0" fill="none" stroke="#FF0000" stroke-width="2.8"/>
<rect x="986.2" y="410.3" width="16.0" height="16.0" fill="none" stroke="#FF0000" stroke-width="2.8"/>
<rect x="959.7" y="434.3" width="16.0" height="16.0" fill="none" stroke="#FF0000" stroke-width="2.8"/>
<rect x="958.9" y="435.1" width="16.0" height="16.0" fill="none" stroke="#FF0000" stroke-width="2.8"/>
<rect x="977.5" y="421.1" width="16.0" height="16.0" fill="none" stroke="#FF0000" stroke-width="2.8"/>
<rect x="982.3" y="413.1" width="16.0" height="16.0" fill="none" stroke="#FF0000" stroke-width="2.8"/>
<rect x="968.5" y="430.0" width="16.0" height="16.0" fill="none" stroke="#FF0000" stroke-width="2.8"/>
<rect x="981.0" y="418.7" width="16.0" height="16.0" fill="none" stroke="#FF0000" stroke-width="2.8"/>
<rect x="960.9" y="436.4" width="16.0" height="16.0" fill="none" stroke="#FF0000" stroke-width="2.8"/>
<rect x="958.1" y="438.7" width="16.0" height="16.0" fill="none" stroke="#FF0000" stroke-width="2.8"/>
<rect x="970.7" y="427.3" width="16.0" height="16.0" fill="none" stroke="#FF0000" stroke-width="2.8"/>
<rect x="992.2" y="408.6" width="16.0" height="16.0" fill="none" stroke="#FF0000" stroke-width="2.8"/>
<rect x="979.7" y="420.2" width="16.0" height="16.0" fill="none" stroke="#FF0000" stroke-width="2.8"/>
<rect x="1022.2" y="385.2" width="16.0" height="16.0" fill="none" stroke="#FF0000" stroke-width="2.8"/>
<rect x="1017.1" y="389.6" width="16.0" height="16.0" fill="none" stroke="#FF0000" stroke-width="2.8"/>
<rect x="1042.6" y="361.7" width="16.0" height="16.0" fill="none" stroke="#FF0000" stroke-width="2.8"/>
<rect x="1013.8" y="388.1" width="16.0" height="16.0" fill="none" stroke="#FF0000" stroke-width="2.8"/>
<rect x="1053.3" y="357.8" width="16.0" height="16.0" fill="none" stroke="#FF0000" stroke-width="2.8"/>
<rect x="1047.2" y="359.0" width="16.0" height="16.0" fill="none" stroke="#FF0000" stroke-width="2.8"/>
<rect x="1030.0" y="369.9" width="16.0" height="16.0" fill="none" stroke="#FF0000" stroke-width="2.8"/>
<rect x="1024.6" y="378.2" width="16.0" height="16.0" fill="none" stroke="#FF0000" stroke-width="2.8"/>
<rect x="1040.2" y="358.8" width="16.0" height="16.0" fill="none" stroke="#FF0000" stroke-width="2.8"/>
<rect x="1022.0" y="377.3" width="16.0" height="16.0" fill="none" stroke="#FF0000" stroke-width="2.8"/>
<rect x="1041.2" y="361.9" width="16.0" height="16.0" fill="none" stroke="#FF0000" stroke-width="2.8"/>
<rect x="1025.2" y="379.3" width="16.0" height="16.0" fill="none" stroke="#FF0000" stroke-width="2.8"/>
<rect x="1006.7" y="397.4" width="16.0" height="16.0" fill="none" stroke="#FF0000" stroke-width="2.8"/>
<rect x="1007.5" y="391.3" width="16.0" height="16.0" fill="none" stroke="#FF0000" stroke-width="2.8"/>
<rect x="1017.3" y="387.9" width="16.0" height="16.0" fill="none" stroke="#FF0000" stroke-width="2.8"/>
<rect x="1008.3" y="389.8" width="16.0" height="16.0" fill="none" stroke="#FF0000" stroke-width="2.8"/>
<rect x="1049.9" y="353.7" width="16.0" height="16.0" fill="none" stroke="#FF0000" stroke-width="2.8"/>
<rect x="1018.7" y="386.0" width="16.0" height="16.0" fill="none" stroke="#FF0000" stroke-width="2.8"/>
<rect x="1019.3" y="383.4" width="16.0" height="16.0" fill="none" stroke="#FF0000" stroke-width="2.8"/>
<rect x="1012.1" y="389.8" width="16.0" height="16.0" fill="none" stroke="#FF0000" stroke-width="2.8"/>
<rect x="1017.7" y="379.9" width="16.0" height="16.0" fill="none" stroke="#FF0000" stroke-width="2.8"/>
<rect x="1055.3" y="350.4" width="16.0" height="16.0" fill="none" stroke="#FF0000" stroke-width="2.8"/>
<rect x="1016.7" y="380.8" width="16.0" height="16.0" fill="none" stroke="#FF0000" stroke-width="2.8"/>
<rect x="1020.2" y="383.6" width="16.0" height="16.0" fill="none" stroke="#FF0000" stroke-width="2.8"/>
<rect x="1003.9" y="397.7" width="16.0" height="16.0" fill="none" stroke="#FF0000" stroke-width="2.8"/>
<rect x="1028.9" y="374.4" width="16.0" height="16.0" fill="none" stroke="#FF0000" stroke-width="2.8"/>
<rect x="1014.4" y="387.2" width="16.0" height="16.0" fill="none" stroke="#FF0000" stroke-width="2.8"/>
<rect x="1004.1" y="398.5" width="16.0" height="16.0" fill="none" stroke="#FF0000" stroke-width="2.8"/>
<rect x="1008.6" y="393.4" width="16.0" height="16.0" fill="none" stroke="#FF0000" stroke-width="2.8"/>
<rect x="1006.0" y="398.9" width="16.0" height="16.0" fill="none" stroke="#FF0000" stroke-width="2.8"/>
<rect x="1019.9" y="385.0" width="16.0" height="16.0" fill="none" stroke="#FF0000" stroke-width="2.8"/>
<rect x="1034.8" y="368.9" width="16.0" height="16.0" fill="none" stroke="#FF0000" stroke-width="2.8"/>
<rect x="1043.6" y="359.6" width="16.0" height="16.0" fill="none" stroke="#FF0000" stroke-width="2.8"/>
<rect x="1041.7" y="358.6" width="16.0" height="16.0" fill="none" stroke="#FF0000" stroke-width="2.8"/>
<path d="M1434.5 15.6L1442.7 31.3L1426.3 31.3Z" fill="none" stroke="#00B050" stroke-width="2.9"/>
<path d="M1380.6 62.6L1388.8 78.2L1372.4 78.2Z" fill="none" stroke="#00B050" stroke-width="2.9"/>
<path d="M1325.4 109.2L1333.6 124.9L1317.2 124.9Z" fill="none" stroke="#00B050" stroke-width="2.9"/>
<path d="M1259.7 155.6L1267.9 171.4L1251.5 171.4Z" fill="none" stroke="#00B050" stroke-width="2.9"/>
<path d="M1215.9 202.4L1224.1 218.2L1207.8 218.2Z" fill="none" stroke="#00B050" stroke-width="2.9"/>
<path d="M1230.1 220.3L1238.2 236.1L1221.9 236.1Z" fill="none" stroke="#00B050" stroke-width="2.9"/>
<path d="M1172.0 249.2L1180.2 265.0L1163.8 265.0Z" fill="none" stroke="#00B050" stroke-width="2.9"/>
<path d="M1195.9 246.0L1204.1 261.8L1187.8 261.8Z" fill="none" stroke="#00B050" stroke-width="2.9"/>
<path d="M1156.9 273.1L1165.1 288.9L1148.8 288.9Z" fill="none" stroke="#00B050" stroke-width="2.9"/>
<path d="M1126.4 297.0L1134.6 312.8L1118.2 312.8Z" fill="none" stroke="#00B050" stroke-width="2.9"/>
<path d="M1150.3 306.8L1158.5 322.6L1142.1 322.6Z" fill="none" stroke="#00B050" stroke-width="2.9"/>
<path d="M1098.1 324.2L1106.2 340.0L1089.9 340.0Z" fill="none" stroke="#00B050" stroke-width="2.9"/>
<path d="M1125.3 324.2L1133.5 340.0L1117.1 340.0Z" fill="none" stroke="#00B050" stroke-width="2.9"/>
<path d="M1088.3 340.5L1096.5 356.2L1080.1 356.2Z" fill="none" stroke="#00B050" stroke-width="2.9"/>
<path d="M1099.2 342.8L1107.4 358.5L1091.0 358.5Z" fill="none" stroke="#00B050" stroke-width="2.9"/>
<path d="M1072.0 349.2L1080.2 365.0L1063.8 365.0Z" fill="none" stroke="#00B050" stroke-width="2.9"/>
<path d="M1046.6 373.8L1054.8 389.6L1038.4 389.6Z" fill="none" stroke="#00B050" stroke-width="2.9"/>
<path d="M1038.5 378.1L1046.7 393.9L1030.3 393.9Z" fill="none" stroke="#00B050" stroke-width="2.9"/>
<path d="M1050.9 377.5L1059.1 393.2L1042.8 393.2Z" fill="none" stroke="#00B050" stroke-width="2.9"/>
<path d="M1042.2 383.8L1050.4 399.5L1034.0 399.5Z" fill="none" stroke="#00B050" stroke-width="2.9"/>
<path d="M1052.2 384.3L1060.4 400.1L1044.0 400.1Z" fill="none" stroke="#00B050" stroke-width="2.9"/>
<path d="M1034.8 393.8L1043.0 409.5L1026.6 409.5Z" fill="none" stroke="#00B050" stroke-width="2.9"/>
<path d="M1039.8 394.3L1048.0 410.1L1031.6 410.1Z" fill="none" stroke="#00B050" stroke-width="2.9"/>
<path d="M1072.7 350.8L1080.9 366.6L1064.5 366.6Z" fill="none" stroke="#00B050" stroke-width="2.9"/>
<path d="M1070.8 359.5L1079.0 375.2L1062.6 375.2Z" fill="none" stroke="#00B050" stroke-width="2.9"/>
<path d="M1075.8 355.8L1084.0 371.5L1067.6 371.5Z" fill="none" stroke="#00B050" stroke-width="2.9"/>
<path d="M1013.0 400.5L1021.1 416.2L1004.9 416.2Z" fill="none" stroke="#00B050" stroke-width="2.9"/>
<path d="M1002.4 412.9L1010.5 428.7L994.2 428.7Z" fill="none" stroke="#00B050" stroke-width="2.9"/>
<path d="M1016.7 405.5L1024.9 421.2L1008.6 421.2Z" fill="none" stroke="#00B050" stroke-width="2.9"/>
<path d="M1011.5 408.8L1019.6 424.6L1003.4 424.6Z" fill="none" stroke="#00B050" stroke-width="2.9"/>
<path d="M1004.7 413.2L1012.9 429.0L996.6 429.0Z" fill="none" stroke="#00B050" stroke-width="2.9"/>
<path d="M981.0 423.1L989.1 438.9L972.9 438.9Z" fill="none" stroke="#00B050" stroke-width="2.9"/>
<path d="M983.5 428.1L991.6 443.9L975.4 443.9Z" fill="none" stroke="#00B050" stroke-width="2.9"/>
<path d="M976.1 438.1L984.2 453.9L968.0 453.9Z" fill="none" stroke="#00B050" stroke-width="2.9"/>
<path d="M968.0 440.6L976.1 456.4L959.9 456.4Z" fill="none" stroke="#00B050" stroke-width="2.9"/>
<path d="M958.7 443.1L966.9 458.9L950.6 458.9Z" fill="none" stroke="#00B050" stroke-width="2.9"/>
<path d="M954.9 449.3L963.0 465.1L946.8 465.1Z" fill="none" stroke="#00B050" stroke-width="2.9"/>
<path d="M943.7 453.0L951.9 468.8L935.6 468.8Z" fill="none" stroke="#00B050" stroke-width="2.9"/>
<path d="M972.3 449.3L980.4 465.1L964.1 465.1Z" fill="none" stroke="#00B050" stroke-width="2.9"/>
<path d="M1092.2 344.3L1100.4 360.1L1084.0 360.1Z" fill="none" stroke="#00B050" stroke-width="2.9"/>
<path d="M1100.9 343.0L1109.1 358.8L1092.8 358.8Z" fill="none" stroke="#00B050" stroke-width="2.9"/>
<path d="M1073.0 352.4L1081.2 368.2L1064.8 368.2Z" fill="none" stroke="#00B050" stroke-width="2.9"/>
<path d="M1060.0 364.1L1068.2 379.9L1051.8 379.9Z" fill="none" stroke="#00B050" stroke-width="2.9"/>
<path d="M1025.0 396.1L1033.2 411.9L1016.9 411.9Z" fill="none" stroke="#00B050" stroke-width="2.9"/>
<path d="M992.0 420.1L1000.1 435.9L983.9 435.9Z" fill="none" stroke="#00B050" stroke-width="2.9"/>
<path d="M963.0 447.1L971.1 462.9L954.9 462.9Z" fill="none" stroke="#00B050" stroke-width="2.9"/>
<path d="M949.0 455.1L957.1 470.9L940.9 470.9Z" fill="none" stroke="#00B050" stroke-width="2.9"/>
<path d="M926.8 473.5L934.9 489.2L918.6 489.2Z" fill="none" stroke="#00B050" stroke-width="2.9"/>
<path d="M943.9 460.3L952.1 476.0L935.8 476.0Z" fill="none" stroke="#00B050" stroke-width="2.9"/>
<path d="M936.4 465.1L944.6 480.8L928.3 480.8Z" fill="none" stroke="#00B050" stroke-width="2.9"/>
<path d="M916.8 481.4L924.9 497.1L908.6 497.1Z" fill="none" stroke="#00B050" stroke-width="2.9"/>
<path d="M941.3 461.1L949.4 476.8L933.1 476.8Z" fill="none" stroke="#00B050" stroke-width="2.9"/>
<path d="M936.7 464.4L944.9 480.1L928.6 480.1Z" fill="none" stroke="#00B050" stroke-width="2.9"/>
<path d="M919.5 479.2L927.7 494.9L911.4 494.9Z" fill="none" stroke="#00B050" stroke-width="2.9"/>
<path d="M930.1 470.0L938.2 485.7L921.9 485.7Z" fill="none" stroke="#00B050" stroke-width="2.9"/>
<path d="M938.7 462.7L946.9 478.4L930.6 478.4Z" fill="none" stroke="#00B050" stroke-width="2.9"/>
<path d="M932.4 468.0L940.5 483.7L924.2 483.7Z" fill="none" stroke="#00B050" stroke-width="2.9"/>
<path d="M935.2 465.9L943.4 481.6L927.1 481.6Z" fill="none" stroke="#00B050" stroke-width="2.9"/>
<path d="M922.1 477.4L930.3 493.1L914.0 493.1Z" fill="none" stroke="#00B050" stroke-width="2.9"/>
<path d="M919.3 479.4L927.5 495.1L911.2 495.1Z" fill="none" stroke="#00B050" stroke-width="2.9"/>
<path d="M918.5 479.9L926.7 495.6L910.4 495.6Z" fill="none" stroke="#00B050" stroke-width="2.9"/>
<path d="M931.6 469.1L939.8 484.8L923.5 484.8Z" fill="none" stroke="#00B050" stroke-width="2.9"/>
<path d="M933.6 467.3L941.7 483.0L925.4 483.0Z" fill="none" stroke="#00B050" stroke-width="2.9"/>
<path d="M929.6 471.7L937.8 487.4L921.5 487.4Z" fill="none" stroke="#00B050" stroke-width="2.9"/>
<path d="M938.5 463.0L946.7 478.7L930.4 478.7Z" fill="none" stroke="#00B050" stroke-width="2.9"/>
<path d="M930.0 470.5L938.2 486.2L921.9 486.2Z" fill="none" stroke="#00B050" stroke-width="2.9"/>
<path d="M934.5 467.8L942.7 483.5L926.4 483.5Z" fill="none" stroke="#00B050" stroke-width="2.9"/>
<path d="M936.8 465.7L944.9 481.4L928.6 481.4Z" fill="none" stroke="#00B050" stroke-width="2.9"/>
<path d="M917.7 480.7L925.8 496.4L909.5 496.4Z" fill="none" stroke="#00B050" stroke-width="2.9"/>
<path d="M936.6 465.9L944.7 481.6L928.4 481.6Z" fill="none" stroke="#00B050" stroke-width="2.9"/>
<path d="M936.9 463.9L945.0 479.6L928.7 479.6Z" fill="none" stroke="#00B050" stroke-width="2.9"/>
<path d="M929.8 471.0L937.9 486.7L921.6 486.7Z" fill="none" stroke="#00B050" stroke-width="2.9"/>
<path d="M929.3 470.9L937.5 486.6L921.2 486.6Z" fill="none" stroke="#00B050" stroke-width="2.9"/>
<path d="M937.7 464.1L945.8 479.8L929.5 479.8Z" fill="none" stroke="#00B050" stroke-width="2.9"/>
<path d="M934.1 468.1L942.2 483.8L925.9 483.8Z" fill="none" stroke="#00B050" stroke-width="2.9"/>
<path d="M919.8 479.1L927.9 494.8L911.6 494.8Z" fill="none" stroke="#00B050" stroke-width="2.9"/>
<path d="M937.0 465.4L945.1 481.1L928.8 481.1Z" fill="none" stroke="#00B050" stroke-width="2.9"/>
<path d="M952.6 454.1L960.7 469.8L944.4 469.8Z" fill="none" stroke="#00B050" stroke-width="2.9"/>
<path d="M945.3 458.9L953.4 474.6L937.1 474.6Z" fill="none" stroke="#00B050" stroke-width="2.9"/>
<path d="M954.1 450.2L962.2 465.9L945.9 465.9Z" fill="none" stroke="#00B050" stroke-width="2.9"/>
<path d="M954.2 451.8L962.3 467.5L946.0 467.5Z" fill="none" stroke="#00B050" stroke-width="2.9"/>
<path d="M946.7 32.3L956.7 42.3L946.7 52.3L936.7 42.3Z" fill="none" stroke="#0070C0" stroke-width="2.9"/>
<rect x="938.9" y="96.5" width="16.1" height="16.1" fill="none" stroke="#FF0000" stroke-width="2.8"/>
<path d="M946.9 159.1L955.0 174.9L938.8 174.9Z" fill="none" stroke="#00B050" stroke-width="2.9"/>
<text x="964.3" y="52.0" font-family="Liberation Sans" class="sn" font-size="29.5" textLength="302.0" lengthAdjust="spacingAndGlyphs">Monodisperse spheres</text>
<text x="964.3" y="113.4" font-family="Liberation Sans" class="sn" font-size="29.5" textLength="247.5" lengthAdjust="spacingAndGlyphs">Bidisperse spheres</text>
<text x="964.3" y="175.9" font-family="Liberation Sans" class="sn" font-size="29.5" textLength="257.5" lengthAdjust="spacingAndGlyphs">Tridisperse spheres</text>
<text x="887.5" y="501.3" font-family="Liberation Serif" font-size="33" text-anchor="end">1</text>
<text x="915.8" y="538.9" font-family="Liberation Serif" font-size="33" text-anchor="middle">1</text>
<text x="887.5" y="341.8" font-family="Liberation Serif" font-size="33" text-anchor="end">3</text>
<text x="1108.4" y="538.9" font-family="Liberation Serif" font-size="33" text-anchor="middle">3</text>
<text x="887.5" y="182.2" font-family="Liberation Serif" font-size="33" text-anchor="end">5</text>
<text x="1301.0" y="538.9" font-family="Liberation Serif" font-size="33" text-anchor="middle">5</text>
<text x="887.5" y="22.7" font-family="Liberation Serif" font-size="33" text-anchor="end">7</text>
<text x="1493.6" y="538.9" font-family="Liberation Serif" font-size="33" text-anchor="middle">7</text>
<text x="968" y="580.9" font-family="Liberation Serif" font-size="36">Mean <tspan font-style="italic">R</tspan><tspan font-style="italic" font-size="24" dy="9">h</tspan><tspan font-size="44.5" dy="-4.7" dx="0">/</tspan><tspan font-style="italic" dy="-4.3" dx="-2.4">R</tspan> from simulation results</text>
<text x="1203.7" y="634.2" font-family="Liberation Serif" font-size="36" text-anchor="middle">(b)</text>
<text transform="translate(812.2 251.8) rotate(-90)" font-family="Liberation Serif" font-size="36" text-anchor="middle">Mean <tspan font-style="italic">R</tspan><tspan font-style="italic" font-size="24" dy="9">h</tspan><tspan font-size="44.5" dy="-4.7" dx="0">/</tspan><tspan font-style="italic" dy="-4.3" dx="-2.4">R</tspan></text>
<text transform="translate(854.0 251.6) rotate(-90)" font-family="Liberation Serif" font-size="36" text-anchor="middle">predicted by the model</text>
</svg></body></html>
